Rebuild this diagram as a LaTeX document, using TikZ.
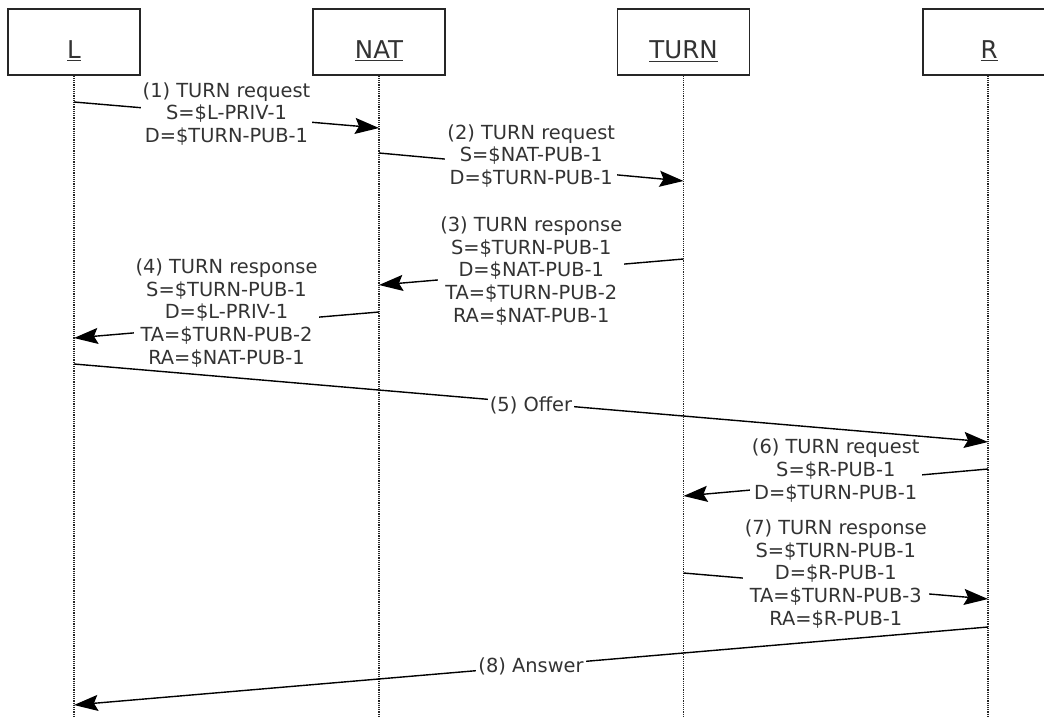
\documentclass[tikz,border=0pt]{standalone}
\usepackage{fontspec}
\setmainfont{DejaVu Sans}
\usetikzlibrary{arrows.meta}
\definecolor{txt}{HTML}{333333}
\begin{document}
\begin{tikzpicture}[x=1pt,y=-1pt,
 actor/.style={draw=black!85, line width=1.3pt, minimum width=132pt, minimum height=66pt, inner sep=0pt, text=txt, font=\fontsize{24.5}{28}\selectfont, text height=36pt, text depth=2pt},
 life/.style={draw=black!85, line width=1.2pt, dash pattern=on 1.1pt off 1.1pt},
 msg/.style={draw=black, line width=1.4pt, -{Stealth[length=24pt,width=16pt,inset=4pt]}},
 lbl/.style={fill=white, text=txt, inner sep=2pt, align=center, font=\fontsize{19.4}{22.7}\selectfont}
]
\useasboundingbox (0,0) rectangle (1044,717);
\clip (0,0) rectangle (1044,717);
\fill[white] (0,0) rectangle (1044,717);
% actors
\node[actor] (L) at (74,42) {\underline{L}};
\node[actor] (NAT) at (379,42) {\underline{NAT}};
\node[actor] (TURN) at (683.5,42) {\underline{TURN}};
\node[actor] (R) at (989,42) {\underline{R}};
% lifelines
\coordinate (Lb) at (74,717);
\coordinate (NATb) at (379,717);
\coordinate (TURNb) at (683.5,717);
\coordinate (Rb) at (988,717);
\draw[life] (L.south) -- (Lb);
\draw[life] (NAT.south) -- (NATb);
\draw[life] (TURN.south) -- (TURNb);
\draw[life] (R.south -| Rb) -- (Rb);
% message end points
\coordinate (m1a) at (74,102);  \coordinate (m1b) at (379,128);
\coordinate (m2a) at (379,153); \coordinate (m2b) at (683.5,181);
\coordinate (m3a) at (683.5,259); \coordinate (m3b) at (379,285);
\coordinate (m4a) at (379,312); \coordinate (m4b) at (74,338);
\coordinate (m5a) at (74,364);  \coordinate (m5b) at (988,442);
\coordinate (m6a) at (988,469); \coordinate (m6b) at (683.5,496);
\coordinate (m7a) at (683.5,573); \coordinate (m7b) at (988,599);
\coordinate (m8a) at (988,627); \coordinate (m8b) at (74,705);
% messages
\draw[msg] (m1a) -- node[lbl, yshift=1pt] (l1) {(1) TURN request\\S=\$L-PRIV-1\\D=\$TURN-PUB-1} (m1b);
\draw[msg] (m2a) -- node[lbl, yshift=11pt] (l2) {(2) TURN request\\S=\$NAT-PUB-1\\D=\$TURN-PUB-1} (m2b);
\draw[msg] (m3a) -- node[lbl, yshift=1pt] (l3) {(3) TURN response\\S=\$TURN-PUB-1\\D=\$NAT-PUB-1\\TA=\$TURN-PUB-2\\RA=\$NAT-PUB-1} (m3b);
\draw[msg] (m4a) -- node[lbl, yshift=12pt] (l4) {(4) TURN response\\S=\$TURN-PUB-1\\D=\$L-PRIV-1\\TA=\$TURN-PUB-2\\RA=\$NAT-PUB-1} (m4b);
\draw[msg] (m5a) -- node[lbl, yshift=-2pt] (l5) {(5) Offer} (m5b);
\draw[msg] (m6a) -- node[lbl, yshift=12pt] (l6) {(6) TURN request\\S=\$R-PUB-1\\D=\$TURN-PUB-1} (m6b);
\draw[msg] (m7a) -- node[lbl, yshift=12pt] (l7) {(7) TURN response\\S=\$TURN-PUB-1\\D=\$R-PUB-1\\TA=\$TURN-PUB-3\\RA=\$R-PUB-1} (m7b);
\draw[msg] (m8a) -- node[lbl] (l8) {(8) Answer} (m8b);
\end{tikzpicture}
\end{document}
